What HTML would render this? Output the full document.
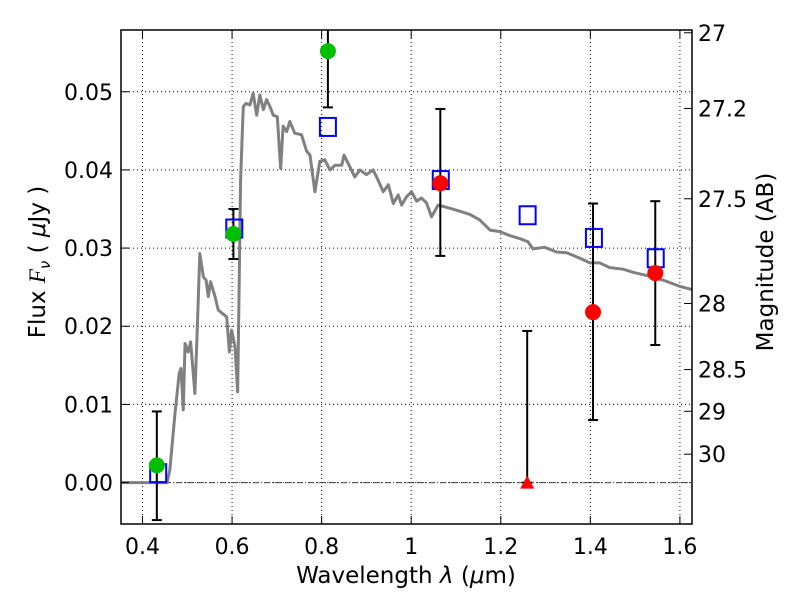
<!DOCTYPE html>
<html><head><meta charset="utf-8"><style>
body{margin:0;background:#fff}
svg{display:block;font-family:"DejaVu Sans","Liberation Sans",sans-serif}
</style></head><body>
<svg id="chart" width="800" height="600" xmlns="http://www.w3.org/2000/svg"></svg>
<script>
const specWl=[0.352,0.44,0.455,0.461,0.4725,0.482,0.486,0.491,0.495,0.502,0.5075,0.517,0.522,0.528,0.536,0.542,0.547,0.552,0.562,0.569,0.577,0.588,0.594,0.599,0.6065,0.6125,0.616,0.619,0.625,0.631,0.640,0.647,0.655,0.662,0.670,0.677,0.6846,0.692,0.701,0.7085,0.714,0.722,0.729,0.740,0.755,0.7665,0.774,0.785,0.796,0.807,0.8185,0.830,0.845,0.850,0.863,0.874,0.8855,0.900,0.915,0.926,0.9375,0.949,0.960,0.971,0.9785,0.990,1.001,1.012,1.023,1.034,1.0455,1.060,1.086,1.109,1.131,1.153,1.176,1.198,1.220,1.243,1.261,1.272,1.298,1.3245,1.347,1.377,1.399,1.421,1.4435,1.473,1.4956,1.525,1.5625,1.600,1.627];
const specFlux=[0,0,0,0.0016,0.0088,0.0140,0.0146,0.0093,0.0178,0.0167,0.0180,0.0114,0.0191,0.0293,0.0263,0.0259,0.0238,0.0257,0.0238,0.0221,0.0217,0.0212,0.0167,0.0195,0.0174,0.0116,0.0259,0.0387,0.0481,0.0485,0.0483,0.0498,0.0470,0.0496,0.0477,0.0490,0.0481,0.0470,0.0468,0.0402,0.0456,0.0449,0.0462,0.0447,0.0445,0.0424,0.0419,0.0372,0.0411,0.0413,0.0400,0.0406,0.0406,0.0419,0.0404,0.0391,0.0400,0.0394,0.0400,0.0387,0.0372,0.0381,0.0357,0.0368,0.0355,0.0366,0.0372,0.0360,0.0364,0.0358,0.0340,0.0355,0.0351,0.0347,0.0343,0.0336,0.0323,0.0321,0.0316,0.0312,0.0308,0.0299,0.0301,0.0295,0.0294,0.0287,0.0281,0.0281,0.0275,0.0273,0.0269,0.0265,0.0259,0.0251,0.0247];
const modelWl=[0.435,0.605,0.814,1.066,1.26,1.408,1.546];
const modelFlux=[0.0012,0.0325,0.0455,0.0387,0.0342,0.0313,0.0287];
const greenWl=[0.432,0.603,0.814];
const greenFlux=[0.0022,0.0318,0.0552];
const greenLo=[-0.0048,0.0286,0.0480];
const greenHi=[0.0091,0.0350,0.0600];
const redWl=[1.065,1.406,1.545];
const redFlux=[0.0383,0.0218,0.0268];
const redLo=[0.0290,0.0080,0.0176];
const redHi=[0.0478,0.0357,0.0360];
const limWl=[1.259];
const limFlux=[0.0];
const limHi=[0.0194];
const xTicks=[0.4,0.6,0.8,1.0,1.2,1.4,1.6];
const xTickLabels=["0.4","0.6","0.8","1","1.2","1.4","1.6"];
const yTicks=[0,0.01,0.02,0.03,0.04,0.05];
const yTickLabels=["0.00","0.01","0.02","0.03","0.04","0.05"];
const magTicks=[27,27.2,27.5,28,28.5,29,30];
const magTickLabels=["27","27.2","27.5","28","28.5","29","30"];

const L=121,R=692,T=30,B=524;
const X0=0.352,X1=1.627,Y0=-0.0053,Y1=0.0579;
const sx=v=>L+(v-X0)/(X1-X0)*(R-L);
const sy=v=>B-(v-Y0)/(Y1-Y0)*(B-T);
const NS="http://www.w3.org/2000/svg";
const svg=document.getElementById('chart');
function mk(tag,attrs,parent){const e=document.createElementNS(NS,tag);for(const k in attrs)e.setAttribute(k,attrs[k]);(parent||svg).appendChild(e);return e;}
const defs=mk('defs',{});const cp=mk('clipPath',{id:'clip'},defs);mk('rect',{x:L,y:T,width:R-L,height:B-T},cp);

const grid=mk('g',{});


xTicks.forEach(v=>mk('line',{x1:sx(v),x2:sx(v),y1:T,y2:B,stroke:'#000','stroke-width':1,'stroke-dasharray':'1,3'},grid));
yTicks.forEach(v=>mk('line',{x1:L,x2:R,y1:sy(v),y2:sy(v),stroke:'#000','stroke-width':1,'stroke-dasharray':'1,3'},grid));
const zl=mk('line',{x1:L,x2:R,y1:sy(0),y2:sy(0),stroke:'#444','stroke-width':1,'stroke-dasharray':'6,2,1,2'});



const plot=mk('g',{'clip-path':'url(#clip)'});
const sp=mk('polyline',{points:specWl.map((w,i)=>sx(w)+','+sy(specFlux[i])).join(' '),fill:'none',stroke:'#808080','stroke-width':3,'stroke-linejoin':'round'},plot);



function errbar(w,lo,hi){const g=mk('g',{},plot);


mk('line',{x1:sx(w),x2:sx(w),y1:sy(lo),y2:sy(hi),stroke:'#000','stroke-width':2},g);
[lo,hi].forEach(v=>mk('line',{x1:sx(w)-5,x2:sx(w)+5,y1:sy(v),y2:sy(v),stroke:'#000','stroke-width':2},g));}
greenWl.forEach((w,i)=>errbar(w,greenLo[i],greenHi[i]));
redWl.forEach((w,i)=>errbar(w,redLo[i],redHi[i]));
limWl.forEach((w,i)=>errbar(w,limFlux[i],limHi[i]));

modelWl.forEach((w,i)=>{const r=mk('rect',{x:sx(w)-8,y:sy(modelFlux[i])-9,width:16,height:18,fill:'none',stroke:'#0000ff','stroke-width':2},plot);

});
greenWl.forEach((w,i)=>{const c=mk('circle',{cx:sx(w),cy:sy(greenFlux[i]),r:8,fill:'#00bf00'},plot);

});
redWl.forEach((w,i)=>{const c=mk('circle',{cx:sx(w),cy:sy(redFlux[i]),r:8,fill:'#ff0000'},plot);

});
limWl.forEach((w,i)=>{const x=sx(w),y=sy(limFlux[i]);const p=mk('polygon',{points:`${x-7},${y+6} ${x+7},${y+6} ${x},${y-7}`,fill:'#ff0000'},plot);

});

const fr=mk('rect',{x:L,y:T,width:R-L,height:B-T,fill:'none',stroke:'#000','stroke-width':1.5});


xTicks.forEach((v,i)=>{mk('line',{x1:sx(v),x2:sx(v),y1:B,y2:B-8,stroke:'#000'});mk('line',{x1:sx(v),x2:sx(v),y1:T,y2:T+8,stroke:'#000'});
const t=mk('text',{x:sx(v),y:B+30,'text-anchor':'middle','font-size':22});t.textContent=xTickLabels[i];

});
yTicks.forEach((v,i)=>{mk('line',{x1:L,x2:L+8,y1:sy(v),y2:sy(v),stroke:'#000'});
const t=mk('text',{x:L-8,y:sy(v)+8,'text-anchor':'end','font-size':22});t.textContent=yTickLabels[i];

});
magTicks.forEach((m,i)=>{const f=Math.pow(10,(23.9-m)/2.5);const y=sy(f);
mk('line',{x1:R,x2:R-8,y1:y,y2:y,stroke:'#000'});
const t=mk('text',{x:R+6,y:y+8,'font-size':22});t.textContent=magTickLabels[i];

});

const xl=mk('text',{x:406,y:583,'text-anchor':'middle','font-size':23});
xl.innerHTML='Wavelength  <tspan font-style="italic">λ</tspan> (<tspan font-style="italic">μ</tspan>m)';


const yl=mk('text',{x:0,y:0,'text-anchor':'middle','font-size':23,transform:'translate(45,262) rotate(-90)'});
yl.innerHTML='Flux  <tspan font-style="italic" font-family="Liberation Serif, serif">F</tspan><tspan font-style="italic" font-size="15" dy="5">ν</tspan><tspan dy="-5">  (  </tspan><tspan font-style="italic">μ</tspan>Jy )';


const ml=mk('text',{x:0,y:0,'text-anchor':'middle','font-size':23,transform:'translate(773,262) rotate(-90)'});
ml.textContent='Magnitude (AB)';


</script>
</body></html>
